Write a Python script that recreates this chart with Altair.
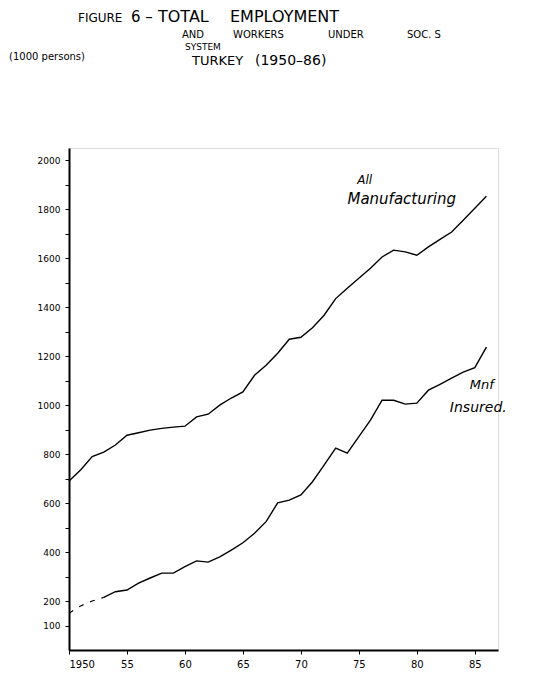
import altair as alt
import pandas as pd

years = list(range(1950, 1987))
all_mfg = [690, 735, 790, 808, 837, 877, 887, 898, 905, 910, 914, 952, 963, 1000, 1029, 1054,
           1122, 1163, 1212, 1269, 1277, 1316, 1367, 1435, 1477, 1518, 1559, 1605, 1633, 1626,
           1612, 1646, 1677, 1707, 1755, 1804, 1853]
insured = [150, 180, 200, 215, 238, 245, 273, 294, 314, 314, 340, 364, 359, 380, 408, 438,
           477, 524, 601, 612, 633, 687, 755, 824, 804, 871, 939, 1020, 1020, 1004,
           1008, 1061, 1085, 1110, 1135, 1153, 1237]
dashed_until = 1953

x_ticks = [1950, 1955, 1960, 1965, 1970, 1975, 1980, 1985]
y_ticks = list(range(100, 2001, 100))

ann_year = [1975.5, 1978.7, 1985.6, 1985.3]
ann_value = [1918, 1843, 1082, 990]
ann_text = ["All", "Manufacturing", "Mnf", "Insured."]

df = pd.DataFrame({"year": years, "all": all_mfg, "ins": insured})

FONT = "DejaVu Sans"

x_enc = alt.X("year:Q",
              scale=alt.Scale(domain=[1950, 1987], nice=False, zero=False),
              axis=alt.Axis(values=x_ticks, tickCount=len(x_ticks),
                            labelExpr="datum.value == 1950 ? '1950' : '' + (datum.value - 1900)",
                            title=None, grid=False, domainColor="black", domainWidth=2,
                            tickColor="black", tickSize=4, labelFontSize=10,
                            labelColor="black", labelPadding=5, labelFont=FONT,
                            labelOverlap=False))
y_scale = alt.Scale(domain=[0, 2050], nice=False)
y_axis = alt.Axis(values=y_ticks, tickCount=len(y_ticks),
                  labelExpr="(datum.value == 100 || datum.value % 200 == 0) ? '' + datum.value : ''",
                  title=None, grid=False, domainColor="black", domainWidth=2,
                  tickColor="black", tickSize=4, labelFontSize=9, labelColor="black",
                  labelPadding=5, labelFont=FONT, labelOverlap=False)

base = alt.Chart(df)
line_all = base.mark_line(color="black", strokeWidth=1.4).encode(
    x=x_enc, y=alt.Y("all:Q", scale=y_scale, axis=y_axis))
line_ins_solid = base.transform_filter(alt.datum.year >= dashed_until).mark_line(
    color="black", strokeWidth=1.4).encode(x="year:Q", y="ins:Q")
line_ins_dash = base.transform_filter(alt.datum.year <= dashed_until).mark_line(
    color="black", strokeWidth=1.2, strokeDash=[5, 7]).encode(x="year:Q", y="ins:Q")

ann_df = pd.DataFrame({"year": ann_year, "value": ann_value, "text": ann_text})
ann_sizes = [12, 15, 13, 14]
anns = []
for i, s in enumerate(ann_sizes):
    anns.append(alt.Chart(ann_df.iloc[[i]]).mark_text(
        fontSize=s, font=FONT, fontStyle="italic", color="black").encode(
        x="year:Q", y="value:Q", text="text:N"))


def txt(s, x, y, size, align="left", style="normal"):
    return alt.Chart(pd.DataFrame({"t": [s]})).mark_text(
        fontSize=size, font=FONT, color="black", align=align, baseline="alphabetic",
        fontStyle=style
    ).encode(x=alt.value(x), y=alt.value(y), text="t:N")

# origin of the plot area on the page is (69, 148)
titles = [
    txt("FIGURE", 9, -126, 12),
    txt("6 –", 62, -126, 15),
    txt("TOTAL", 89, -126, 16),
    txt("EMPLOYMENT", 161, -126, 16),
    txt("AND", 113, -110, 10),
    txt("WORKERS", 164, -110, 10),
    txt("UNDER", 259, -110, 10),
    txt("SOC. S", 338, -110, 10),
    txt("SYSTEM", 116, -98, 9),
    txt("TURKEY", 123, -83, 13),
    txt("(1950–86)", 186, -83, 14),
    txt("(1000 persons)", -22, -88, 10, align="center"),
]

chart = alt.layer(line_all, line_ins_dash, line_ins_solid, *anns, *titles).properties(
    width=429, height=502,
    autosize=alt.AutoSizeParams(type="none"),
    padding={"left": 61, "top": 140, "right": 30, "bottom": 22},
).configure_view(stroke=None).configure(background="white")

chart.save("out.html", embed_options={"renderer": "svg", "actions": False})
